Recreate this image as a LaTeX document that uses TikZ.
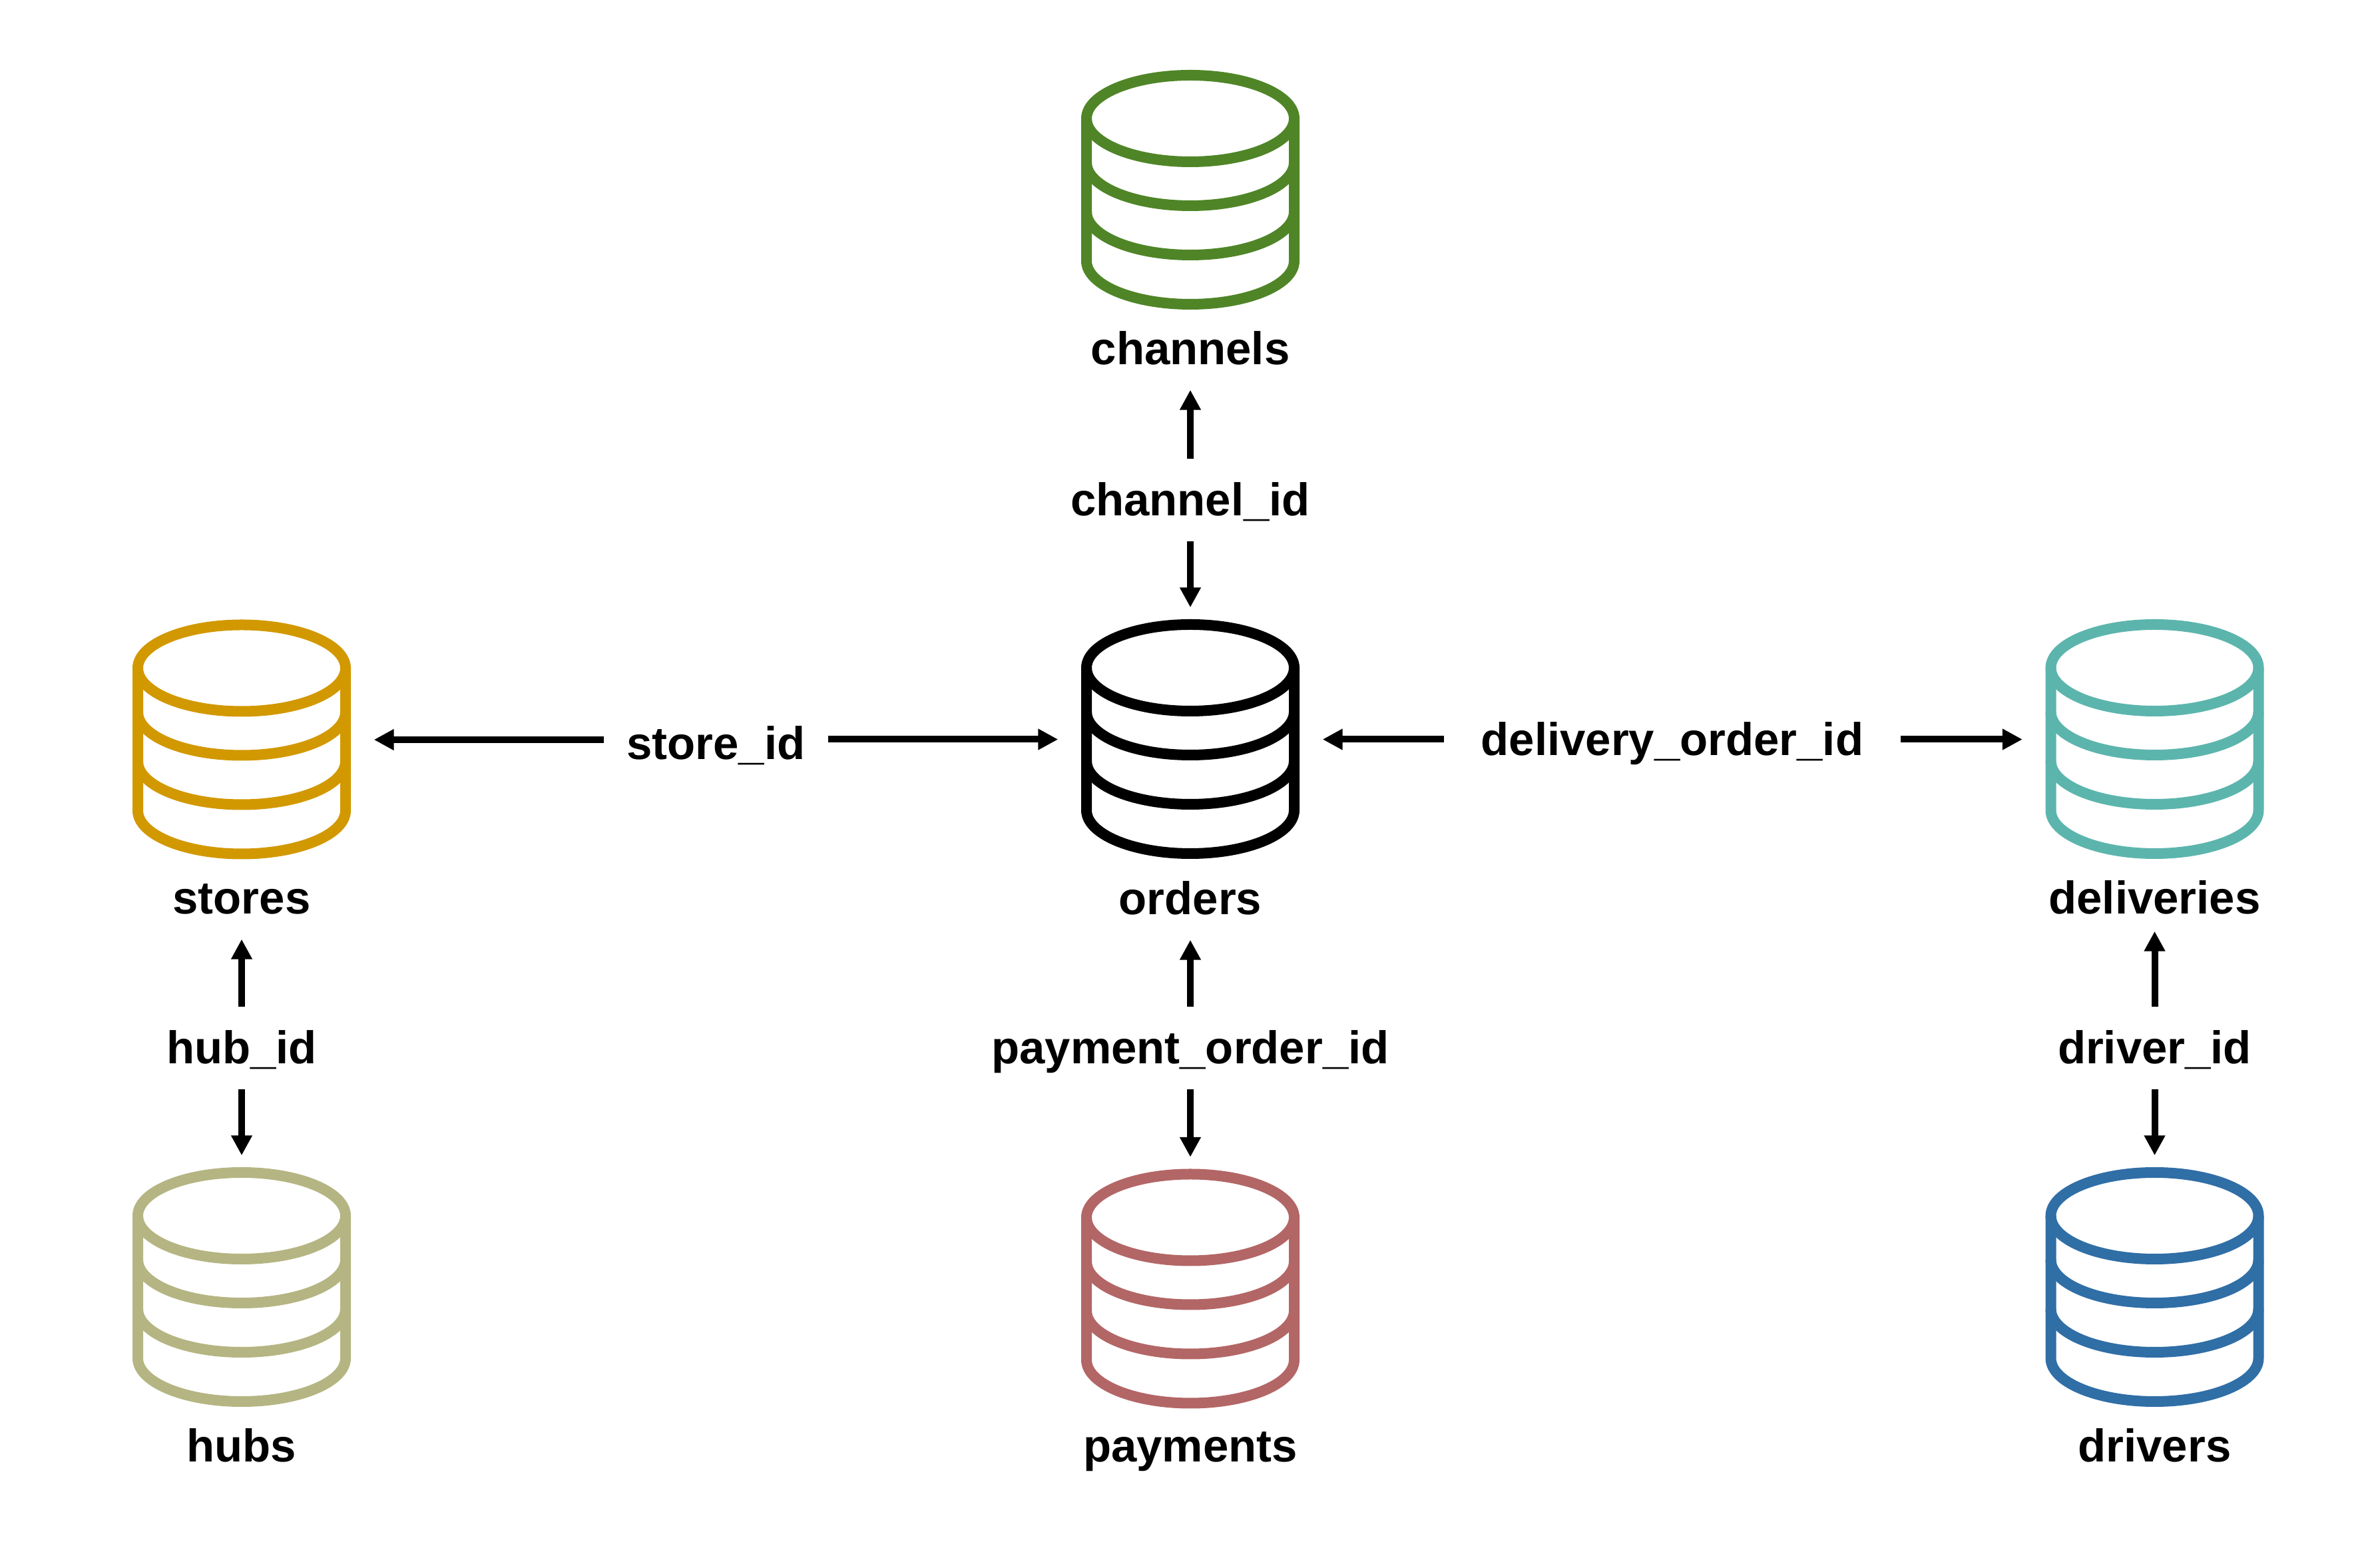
\documentclass[tikz,border=0pt]{standalone}
\usepackage{fontspec}
\setmainfont{Liberation Sans}
\usetikzlibrary{arrows.meta}
\definecolor{dbgreen}{HTML}{4F8527}
\definecolor{dbamber}{HTML}{D29800}
\definecolor{dbteal}{HTML}{5CB5AD}
\definecolor{dbkhaki}{HTML}{B5B583}
\definecolor{dbrose}{HTML}{B36666}
\definecolor{dbblue}{HTML}{306EA6}
\tikzset{
    dbline/.style={line width=.16cm},
    dbbox/.style={minimum width=3.96cm,minimum height=3.95cm,inner sep=0pt},
    dbtext/.style={anchor=base,font=\fontsize{19.6pt}{24pt}\selectfont\bfseries,text height=.48cm,text depth=0pt,inner ysep=.37cm,inner xsep=.34cm},
    link/.style={line width=.1cm,-{Triangle[width=.3cm,length=.3cm]}}
}
\newcommand{\dbicon}[4]{
    \node[dbbox] (#1) at (#2,#3) {};
    \draw[dbline,#4,shift={(#2,#3)}] (0,1.075) ellipse (1.56 and .65);
    \draw[dbline,#4,shift={(#2,#3)}] (-1.56,1.075) -- (-1.56,-1.065) arc[start angle=180,end angle=360,x radius=1.56,y radius=.65] -- (1.56,1.075);
    \draw[dbline,#4,shift={(#2,#3)}] (-1.56,.415) arc[start angle=180,end angle=360,x radius=1.56,y radius=.65];
    \draw[dbline,#4,shift={(#2,#3)}] (-1.56,-.325) arc[start angle=180,end angle=360,x radius=1.56,y radius=.65];
}
\begin{document}
\begin{tikzpicture}
        \useasboundingbox (0,0) rectangle (35.75,23.55);
        \dbicon{channels}{17.88}{20.695}{dbgreen}
        \dbicon{stores}{3.63}{12.44}{dbamber}
        \dbicon{orders}{17.88}{12.445}{black}
        \dbicon{deliveries}{32.365}{12.445}{dbteal}
        \dbicon{hubs}{3.63}{4.215}{dbkhaki}
        \dbicon{payments}{17.88}{4.19}{dbrose}
        \dbicon{drivers}{32.365}{4.215}{dbblue}
        \node[dbtext] (channelslabel) at (17.88,18.07) {channels};
        \node[dbtext] (storeslabel) at (3.63,9.82) {stores};
        \node[dbtext] (orderslabel) at (17.88,9.81) {orders};
        \node[dbtext] (deliverieslabel) at (32.365,9.82) {deliveries};
        \node[dbtext] (hubslabel) at (3.63,1.59) {hubs};
        \node[dbtext] (paymentslabel) at (17.88,1.59) {payments};
        \node[dbtext] (driverslabel) at (32.365,1.59) {drivers};
        \node[dbtext] (channelid) at (17.88,15.80) {channel\_id};
        \node[dbtext] (storeid) at (10.755,12.14) {store\_id};
        \node[dbtext,inner xsep=.55cm] (deliveryid) at (25.12,12.20) {delivery\_order\_id};
        \node[dbtext] (hubid) at (3.63,7.57) {hub\_id};
        \node[dbtext] (paymentid) at (17.88,7.57) {payment\_order\_id};
        \node[dbtext] (driverid) at (32.365,7.57) {driver\_id};
        \draw[link] (channelid) -- (channelslabel);
        \draw[link] (channelid) -- (orders);
        \draw[link] (storeid.west |- stores.east) -- (stores.east);
        \draw[link] (storeid.east |- orders.west) -- (orders.west);
        \draw[link] (deliveryid.west |- orders.east) -- (orders.east);
        \draw[link] (deliveryid.east |- deliveries.west) -- (deliveries.west);
        \draw[link] (hubid) -- (storeslabel);
        \draw[link] (hubid) -- (hubs);
        \draw[link] (paymentid) -- (orderslabel);
        \draw[link] (paymentid) -- (payments);
        \draw[link,shorten >=-.12cm] (driverid) -- (deliverieslabel);
        \draw[link] (driverid) -- (drivers);
    \end{tikzpicture}
\end{document}
